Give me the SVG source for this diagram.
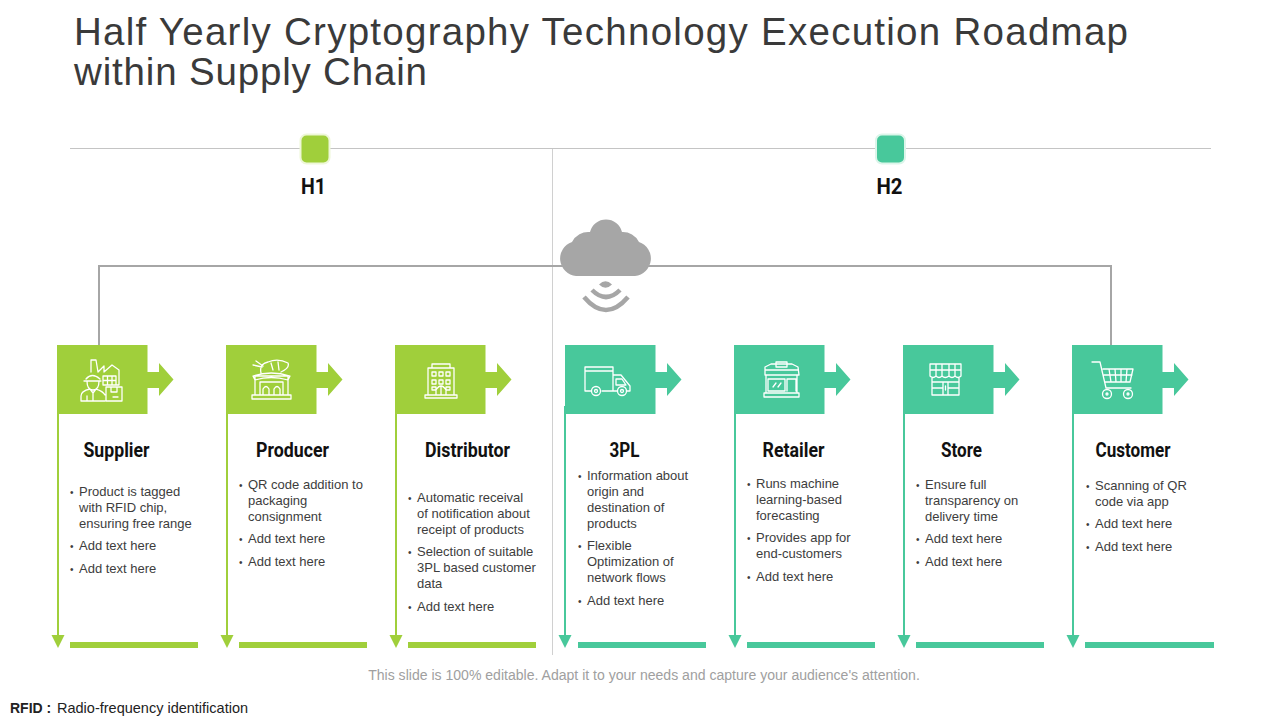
<svg xmlns="http://www.w3.org/2000/svg" width="1280" height="720" viewBox="0 0 1280 720">
<style>
text{font-family:"Liberation Sans",Arial,sans-serif}
.title{font-size:38.5px;fill:#3a3a3a}
.head{font-family:Roboto,"Liberation Sans",sans-serif;font-weight:700;font-size:20.5px;fill:#111;text-anchor:middle}
.b{font-size:13px;fill:#3d3d3d}
.d{font-size:10px}
.g{fill:#a0cf3b}.t{fill:#48c89b}
.gs{stroke:#a0cf3b}.ts{stroke:#48c89b}
.ic{fill:none;stroke:#fff;stroke-width:1.3;stroke-linejoin:round;stroke-linecap:round}
.drop{stroke-width:2;fill:none}
</style>
<defs>
<path id="flag" d="M0 0H90.500V27H102V18L116.500 34.500L102 51V43H90.500V69H0Z"/>
<path id="down" d="M-6.500 0H6.500L0 13Z"/>
</defs>
<rect width="1280" height="720" fill="#fff"/>
<text class="title" x="74" y="45" textLength="1054">Half Yearly Cryptography Technology Execution Roadmap</text>
<text class="title" x="74" y="85" textLength="353">within Supply Chain</text>
<g id="connectors">
<path d="M70 148.500H1211" stroke="#c4c4c4" stroke-width="1" fill="none"/>
<path d="M552.500 149V655" stroke="#d0d0d0" stroke-width="1" fill="none"/>
<path d="M99 345V266H1111V345" stroke="#a6a6a6" stroke-width="2" fill="none"/>
<path class="drop gs" d="M58 414V636"/><use href="#down" x="58" y="635" class="g"/>
<path class="drop gs" d="M227 414V636"/><use href="#down" x="227" y="635" class="g"/>
<path class="drop gs" d="M396 414V636"/><use href="#down" x="396" y="635" class="g"/>
<path class="drop ts" d="M565 406V636"/><use href="#down" x="565" y="635" class="t"/>
<path class="drop ts" d="M735 414V636"/><use href="#down" x="735" y="635" class="t"/>
<path class="drop ts" d="M904 414V636"/><use href="#down" x="904" y="635" class="t"/>
<path class="drop ts" d="M1073 414V636"/><use href="#down" x="1073" y="635" class="t"/>
</g>
<g id="h1">
<rect x="300.500" y="134.500" width="29" height="29" rx="6" class="g" stroke="#eef7d8" stroke-width="2"/>
<text x="313.500" y="194" class="head" textLength="25" lengthAdjust="spacingAndGlyphs" style="font-size:22px">H1</text>
</g>
<g id="h2">
<rect x="876" y="134.500" width="29" height="29" rx="6" class="t" stroke="#dcf5ea" stroke-width="2"/>
<text x="889.500" y="194" class="head" textLength="26" lengthAdjust="spacingAndGlyphs" style="font-size:22px">H2</text>
</g>
<g id="cloud" fill="#a6a6a6">
<path d="M576 276A17.500 17.500 0 0 1 572 242A18 18 0 0 1 590 232A16.500 16.500 0 0 1 622 232A18 18 0 0 1 639 242A17.500 17.500 0 0 1 635 276Z"/>
<path d="M599 284.500Q605.500 278 612 284.500Q605.500 291 599 284.500Z"/>
<path d="M592 290Q606 304 620 290" fill="none" stroke="#a6a6a6" stroke-width="4.500"/>
<path d="M584 297Q606 323 628 297" fill="none" stroke="#a6a6a6" stroke-width="4.500"/>
</g>
<g id="supplier">
<use href="#flag" x="57" y="345" class="g"/>
<path class="ic" d="M91 372V360H96L98 372M98 372L104 366V372L112 365L119 370V385H116M103 376H116V385H103ZM107.500 376V385M112 376V385M103 380.500H116M86 379Q92 372 100 379M84 381H101M87 381Q87 390 93 390Q99 390 99 381M81 401V396Q81 391 90 389L93 393L96 389Q103 391 105 395M93 393V401M87 401V396M105 401H81M106 387H122V401H106ZM111 387V392H117V387M113 397H118"/>
<rect x="70" y="642" width="128" height="6" class="g"/>
<text x="116.500" y="457" class="head" textLength="66" lengthAdjust="spacingAndGlyphs">Supplier</text>
<text class="b"><tspan class="d" x="70" y="496">•</tspan><tspan x="79" y="496">Product is tagged</tspan><tspan x="79" y="512">with RFID chip,</tspan><tspan x="79" y="528">ensuring free range</tspan><tspan class="d" x="70" y="550">•</tspan><tspan x="79" y="550">Add text here</tspan><tspan class="d" x="70" y="573">•</tspan><tspan x="79" y="573">Add text here</tspan></text>
</g>
<g id="producer">
<use href="#flag" x="226" y="345" class="g"/>
<path class="ic" d="M252 399H291V395H252ZM255 395V376H288V395M253 376Q271 370 290 376L288 380Q271 375 255 380ZM261 373Q259 364 268 362Q278 358 288 363Q290 368 281 372M253 365L262 367M256 361L263 366M271 363L273 370M278 362L279 370M260 395V382H283V395M263 395V389Q266 384 269 389V395M274 395V389Q277 384 280 389V395"/>
<rect x="239" y="642" width="128" height="6" class="g"/>
<text x="292.500" y="457" class="head" textLength="73" lengthAdjust="spacingAndGlyphs">Producer</text>
<text class="b"><tspan class="d" x="239" y="489">•</tspan><tspan x="248" y="489">QR code addition to</tspan><tspan x="248" y="505">packaging</tspan><tspan x="248" y="521">consignment</tspan><tspan class="d" x="239" y="543">•</tspan><tspan x="248" y="543">Add text here</tspan><tspan class="d" x="239" y="566">•</tspan><tspan x="248" y="566">Add text here</tspan></text>
</g>
<g id="distributor">
<use href="#flag" x="395" y="345" class="g"/>
<path class="ic" d="M425 398H457V395H425ZM428 395V368H454V395M432 368V364H450V368M432 372h4v4h-4zM439 372h4v4h-4zM446 372h4v4h-4zM432 380h4v4h-4zM439 380h4v4h-4zM446 380h4v4h-4zM432 387h4v3h-4zM446 387h4v3h-4zM436 395V390Q441 382 446 390V395M441 386V395"/>
<rect x="408" y="642" width="128" height="6" class="g"/>
<text x="467.500" y="457" class="head" textLength="85" lengthAdjust="spacingAndGlyphs">Distributor</text>
<text class="b"><tspan class="d" x="408" y="502">•</tspan><tspan x="417" y="502">Automatic receival</tspan><tspan x="417" y="518">of notification about</tspan><tspan x="417" y="534">receipt of products</tspan><tspan class="d" x="408" y="556">•</tspan><tspan x="417" y="556">Selection of suitable</tspan><tspan x="417" y="572">3PL based customer</tspan><tspan x="417" y="588">data</tspan><tspan class="d" x="408" y="611">•</tspan><tspan x="417" y="611">Add text here</tspan></text>
</g>
<g id="tpl">
<use href="#flag" x="565" y="345" class="t"/>
<path class="ic" d="M591 391H585V367H613V391H602M585 371H613M613 375H621L630 386V391H627M613 391H617M616 379H622L626 385H616Z"/>
<circle class="ic" cx="596" cy="391" r="4.500"/><circle class="ic" cx="596" cy="391" r="1.500"/>
<circle class="ic" cx="622" cy="391" r="4.500"/><circle class="ic" cx="622" cy="391" r="1.500"/>
<rect x="578" y="642" width="128" height="6" class="t"/>
<text x="624.500" y="457" class="head" textLength="30" lengthAdjust="spacingAndGlyphs">3PL</text>
<text class="b"><tspan class="d" x="578" y="480">•</tspan><tspan x="587" y="480">Information about</tspan><tspan x="587" y="496">origin and</tspan><tspan x="587" y="512">destination of</tspan><tspan x="587" y="528">products</tspan><tspan class="d" x="578" y="550">•</tspan><tspan x="587" y="550">Flexible</tspan><tspan x="587" y="566">Optimization of</tspan><tspan x="587" y="582">network flows</tspan><tspan class="d" x="578" y="605">•</tspan><tspan x="587" y="605">Add text here</tspan></text>
</g>
<g id="retailer">
<use href="#flag" x="734" y="345" class="t"/>
<path class="ic" d="M764 397H799V393H764ZM766 393V375H797V393M765 375L765 367L771 364H792L798 367L799 375ZM776 362H787V367H776ZM765 370H798M768 379H785V391H768ZM787 391V379H796V391M773 387L776 383M778 387L781 383"/>
<rect x="747" y="642" width="128" height="6" class="t"/>
<text x="793.500" y="457" class="head" textLength="62" lengthAdjust="spacingAndGlyphs">Retailer</text>
<text class="b"><tspan class="d" x="747" y="488">•</tspan><tspan x="756" y="488">Runs machine</tspan><tspan x="756" y="504">learning-based</tspan><tspan x="756" y="520">forecasting</tspan><tspan class="d" x="747" y="542">•</tspan><tspan x="756" y="542">Provides app for</tspan><tspan x="756" y="558">end-customers</tspan><tspan class="d" x="747" y="581">•</tspan><tspan x="756" y="581">Add text here</tspan></text>
</g>
<g id="store">
<use href="#flag" x="903" y="345" class="t"/>
<path class="ic" d="M930 364H961V376Q958 379 955 376Q952 379 949 376Q945 379 942 376Q939 379 936 376Q933 379 930 376ZM930 370H961M936 364V376M942 364V376M949 364V376M955 364V376M932 378V395H959V378M932 382H943V395M948 395V382H959M943 382H948M932 388H943M948 388H959M945.500 386V390"/>
<rect x="916" y="642" width="128" height="6" class="t"/>
<text x="961.500" y="457" class="head" textLength="41" lengthAdjust="spacingAndGlyphs">Store</text>
<text class="b"><tspan class="d" x="916" y="489">•</tspan><tspan x="925" y="489">Ensure full</tspan><tspan x="925" y="505">transparency on</tspan><tspan x="925" y="521">delivery time</tspan><tspan class="d" x="916" y="543">•</tspan><tspan x="925" y="543">Add text here</tspan><tspan class="d" x="916" y="566">•</tspan><tspan x="925" y="566">Add text here</tspan></text>
</g>
<g id="customer">
<use href="#flag" x="1072" y="345" class="t"/>
<path class="ic" d="M1092 362H1100L1106 388H1131M1103 369H1133L1130 382H1105M1109 369L1111 382M1115 369L1116 382M1121 369L1121 382M1127 369L1126 382M1104 375H1132"/>
<circle class="ic" cx="1107" cy="394" r="4.500"/><circle class="ic" cx="1107" cy="394" r="1"/>
<circle class="ic" cx="1128" cy="394" r="4.500"/><circle class="ic" cx="1128" cy="394" r="1"/>
<rect x="1085" y="642" width="129" height="6" class="t"/>
<text x="1133" y="457" class="head" textLength="75" lengthAdjust="spacingAndGlyphs">Customer</text>
<text class="b"><tspan class="d" x="1086" y="490">•</tspan><tspan x="1095" y="490">Scanning of QR</tspan><tspan x="1095" y="506">code via app</tspan><tspan class="d" x="1086" y="528">•</tspan><tspan x="1095" y="528">Add text here</tspan><tspan class="d" x="1086" y="551">•</tspan><tspan x="1095" y="551">Add text here</tspan></text>
</g>
<text x="644" y="680" text-anchor="middle" font-size="14.050" fill="#a0a0a0">This slide is 100% editable. Adapt it to your needs and capture your audience's attention.</text>
<text y="713" font-size="14.500" fill="#222"><tspan x="10" font-weight="700" font-size="14">RFID :</tspan><tspan x="57">Radio-frequency identification</tspan></text>
</svg>
